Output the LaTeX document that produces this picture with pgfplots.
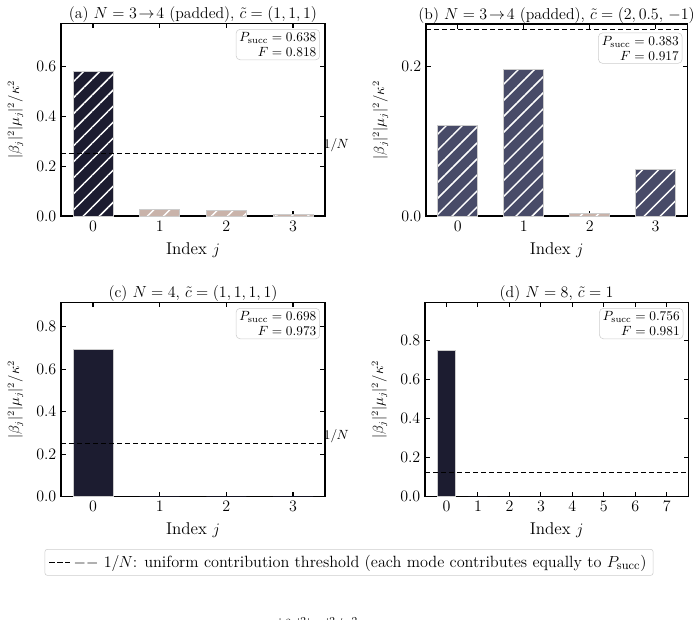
\documentclass[border=0pt]{standalone}
\usepackage{pgfplots}
\pgfplotsset{compat=1.18}
\usetikzlibrary{patterns.meta}

\definecolor{navy}{HTML}{1C1C30}
\definecolor{slate}{HTML}{484B68}
\definecolor{faint}{HTML}{C9B3AA}
\definecolor{edgegray}{HTML}{CCCCCC}

\tikzset{
  infobox/.style={draw=edgegray, rounded corners=3pt, fill=white, align=right,
      anchor=north east, font=\fontsize{9.8}{11}\selectfont, inner sep=2.5pt},
  hatched/.style={postaction={pattern color=white,
      pattern={Lines[angle=45,distance=8.5pt,line width=1.1pt]}}},
  refnote/.style={anchor=base west, inner sep=0pt, font=\fontsize{10}{12}\selectfont},
}

\pgfplotsset{
  panel/.style={
    scale only axis,
    anchor=south west,
    axis line style={line width=0.8pt},
    tick align=inside,
    major tick length=3.5pt,
    tick style={black, line width=0.8pt},
    ymin=0,
    clip=false,
    ticklabel style={font=\fontsize{12.5}{14}\selectfont},
    y tick label style={/pgf/number format/.cd, fixed, fixed zerofill, precision=1},
    xlabel={Index $j$},
    xlabel style={font=\fontsize{12.8}{14}\selectfont, yshift=-1.5pt},
    ylabel={$|\beta_j|^2|\mu_j|^2/\kappa^2$},
    ylabel style={font=\fontsize{10.5}{12}\selectfont, yshift=3pt},
    title style={font=\fontsize{11.8}{14}\selectfont, at={(0.5,1)}, anchor=base, yshift=-2.6pt},
  },
  bars/.style={ybar, bar shift=0pt, bar width=0.6, draw=edgegray, line width=0.6pt},
  tinybars/.style={ybar, bar shift=0pt, bar width=0.6, draw=none, fill=navy},
  threshold/.style={black, line width=0.9pt, dash pattern=on 4pt off 2pt},
}

\begin{document}
\begin{tikzpicture}
\path[use as bounding box] (0,0) rectangle (525pt,465pt);

% (a) padded N=3 -> 4, c = (1,1,1)
\begin{axis}[panel, at={(45.75pt,303pt)}, width=198pt, height=144.5pt,
    xmin=-0.48, xmax=3.48, ymax=0.774,
    xtick={0,1,2,3}, ytick={0,0.2,0.4,0.6},
    title={(a) $N=3\!\to\!4$ (padded), $\tilde{c}=(1,1,1)$}]
  \addplot[bars, fill=navy, hatched] coordinates {(0,0.582)};
  \addplot[bars, fill=faint, hatched] coordinates {(1,0.027) (2,0.021) (3,0.008)};
  \addplot[threshold] coordinates {(-0.48,0.25) (3.48,0.25)};
  \node[refnote] at (axis cs:3.46,0.27) {$1/N$};
  \node[infobox] at (rel axis cs:0.981,0.970)
    {$P_{\mathrm{succ}}=0.638$\\$F=0.818$};
\end{axis}

% (b) padded N=3 -> 4, c = (2, 0.5, -1)
\begin{axis}[panel, at={(319.5pt,303pt)}, width=196pt, height=144pt,
    xmin=-0.48, xmax=3.48, ymax=0.257,
    xtick={0,1,2,3}, ytick={0,0.2},
    title={(b) $N=3\!\to\!4$ (padded), $\tilde{c}=(2,0.5,\,-1)$}]
  \addplot[bars, fill=slate, hatched] coordinates {(0,0.121) (1,0.196) (3,0.062)};
  \addplot[bars, fill=faint, hatched] coordinates {(2,0.004)};
  \addplot[threshold] coordinates {(-0.48,0.25) (3.48,0.25)};
  \node[infobox] at (rel axis cs:0.981,0.955)
    {$P_{\mathrm{succ}}=0.383$\\$F=0.917$};
\end{axis}

% (c) N=4, c = (1,1,1,1)
\begin{axis}[panel, at={(45.75pt,92.5pt)}, width=198pt, height=145.8pt,
    xmin=-0.48, xmax=3.48, ymax=0.915,
    xtick={0,1,2,3}, ytick={0,0.2,0.4,0.6,0.8},
    title={(c) $N=4$, $\tilde{c}=(1,1,1,1)$},
    legend style={at={(1.091,-0.338)}, anchor=center, draw=edgegray,
      rounded corners=2pt, font=\fontsize{12.2}{14}\selectfont,
      inner xsep=3pt, inner ysep=2.5pt},
    legend image code/.code={\draw[#1] (0cm,0cm) -- (0.55cm,0cm);}]
  \addplot[bars, fill=navy, forget plot] coordinates {(0,0.692)};
  \addplot[tinybars, forget plot] coordinates {(1,0.002) (2,0.002) (3,0.002)};
  \addplot[threshold] coordinates {(-0.48,0.25) (3.48,0.25)};
  \addlegendentry{$--$ $1/N$: uniform contribution threshold (each mode contributes equally to $P_{\mathrm{succ}}$)}
  \node[refnote] at (axis cs:3.46,0.27) {$1/N$};
  \node[infobox] at (rel axis cs:0.981,0.970)
    {$P_{\mathrm{succ}}=0.698$\\$F=0.973$};
\end{axis}

% (d) N=8, c = 1
\begin{axis}[panel, at={(318.75pt,92.5pt)}, width=197.5pt, height=145.8pt,
    xmin=-0.68, xmax=7.68, ymax=0.997,
    xtick={0,...,7}, ytick={0,0.2,0.4,0.6,0.8},
    title={(d) $N=8$, $\tilde{c}=1$}]
  \addplot[bars, fill=navy] coordinates {(0,0.752)};
  \addplot[tinybars] coordinates {(1,0.001) (2,0.001) (3,0.0005) (4,0.0005) (5,0.0005) (6,0.0005) (7,0.0005)};
  \addplot[threshold] coordinates {(-0.68,0.125) (7.68,0.125)};
  \node[infobox] at (rel axis cs:0.981,0.970)
    {$P_{\mathrm{succ}}=0.756$\\$F=0.981$};
\end{axis}

% shared quantity label below the panels
\node[anchor=north, inner sep=0pt, font=\fontsize{11}{12}\selectfont]
  at (238.5pt,2.3pt) {$|\beta_j|^2|\mu_j|^2/\kappa^2$};
\end{tikzpicture}
\end{document}
